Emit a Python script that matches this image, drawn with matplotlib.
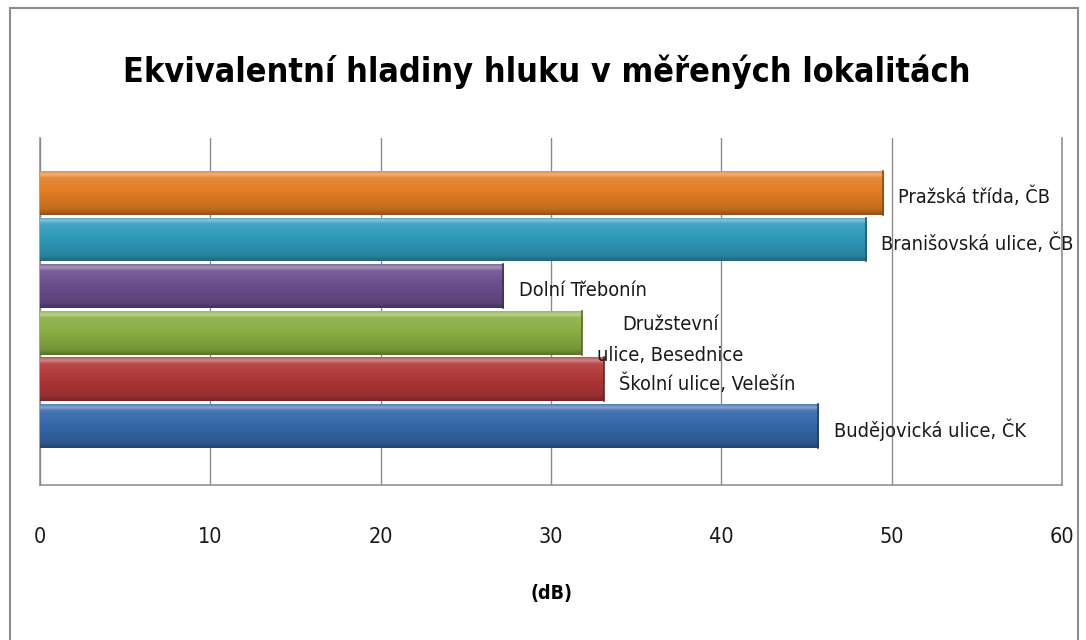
import numpy as np
import matplotlib
matplotlib.use("Agg")
import matplotlib.pyplot as plt
from matplotlib import font_manager
from matplotlib.colors import LinearSegmentedColormap, to_rgb
from matplotlib.patches import Rectangle

# narrow font like the original (Calibri-ish); fall back to condensed DejaVu
names = {f.name for f in font_manager.fontManager.ttflist}
stretch = "normal"
if "Liberation Sans Narrow" in names:
    family = ["Liberation Sans Narrow", "DejaVu Sans"]
else:
    family = ["DejaVu Sans"]
    stretch = "condensed"
plt.rcParams['font.family'] = family
plt.rcParams['font.stretch'] = stretch

# data, bottom to top
locations = ["Budějovická ulice, ČK", "Školní ulice, Velešín", "Družstevní\nulice, Besednice",
             "Dolní Třebonín", "Branišovská ulice, ČB", "Pražská třída, ČB"]
levels = [45.7, 33.1, 31.8, 27.2, 48.5, 49.5]
colors = ["#3567AA", "#B13838", "#8AAE42", "#6A4E8E", "#2F9BBA", "#E27D22"]
xticks = [0, 10, 20, 30, 40, 50, 60]

fig = plt.figure(figsize=(10.86, 6.4), dpi=100)
ax = fig.add_axes([40 / 1086, 1 - 485 / 640, 1022 / 1086, 347 / 640])

# outer chart border
fig.patches.append(Rectangle((10 / 1086, -0.1), 1068 / 1086, 1.1 - 8 / 640,
                             transform=fig.transFigure, fill=False,
                             edgecolor="#8c8c8c", linewidth=1.5))


def shade(c, f):
    r = np.array(to_rgb(c))
    if f > 0:
        return tuple(r + (1 - r) * f)
    return tuple(r * (1 + f))


h = 0.94
ypos = np.arange(len(levels))
for y, v, c in zip(ypos, levels, colors):
    cmap = LinearSegmentedColormap.from_list(
        "g", [(0, shade(c, -0.35)), (0.12, shade(c, -0.15)), (0.55, c),
              (0.85, shade(c, 0.1)), (0.93, shade(c, 0.4)), (1, shade(c, 0.15))])
    bar = ax.barh(y, v, height=h, color=c, zorder=3)[0]
    grad = np.linspace(0, 1, 100).reshape(-1, 1)
    im = ax.imshow(grad, cmap=cmap, aspect="auto", origin="lower",
                   extent=(0, v, y - h / 2, y + h / 2), zorder=3)
    im.set_clip_path(bar)
    ax.plot([v, v], [y - h / 2, y + h / 2], color=shade(c, -0.4), lw=1.2, zorder=4)

for y, v, name in zip(ypos, levels, locations):
    ax.annotate(name, (v, y), xytext=(11, -3 if "\n" not in name else -5),
                textcoords="offset points", ha="left", va="center",
                fontsize=14.3, color="#1a1a1a", multialignment="center",
                linespacing=1.8, zorder=5)

ax.set_xlim(0, 60)
ax.set_ylim(-1.27, 6.18)
ax.set_xticks(xticks)
ax.set_yticks([])
ax.tick_params(axis="x", length=0, pad=30, labelsize=15.5, labelcolor="#1a1a1a")
ax.grid(axis="x", color="#8a8a8a", linewidth=1, zorder=0)
ax.spines["top"].set_visible(False)
for s in ["left", "bottom", "right"]:
    ax.spines[s].set_color("#8a8a8a")
    ax.spines[s].set_linewidth(1.1)

ax.set_xlabel("(dB)", fontsize=14, fontweight="bold", labelpad=27)
fig.text(547 / 1086, 1 - 72 / 640, "Ekvivalentní hladiny hluku v měřených lokalitách",
         ha="center", va="center", fontsize=24.5, fontweight="bold")

fig.savefig("out.png", dpi=100)
